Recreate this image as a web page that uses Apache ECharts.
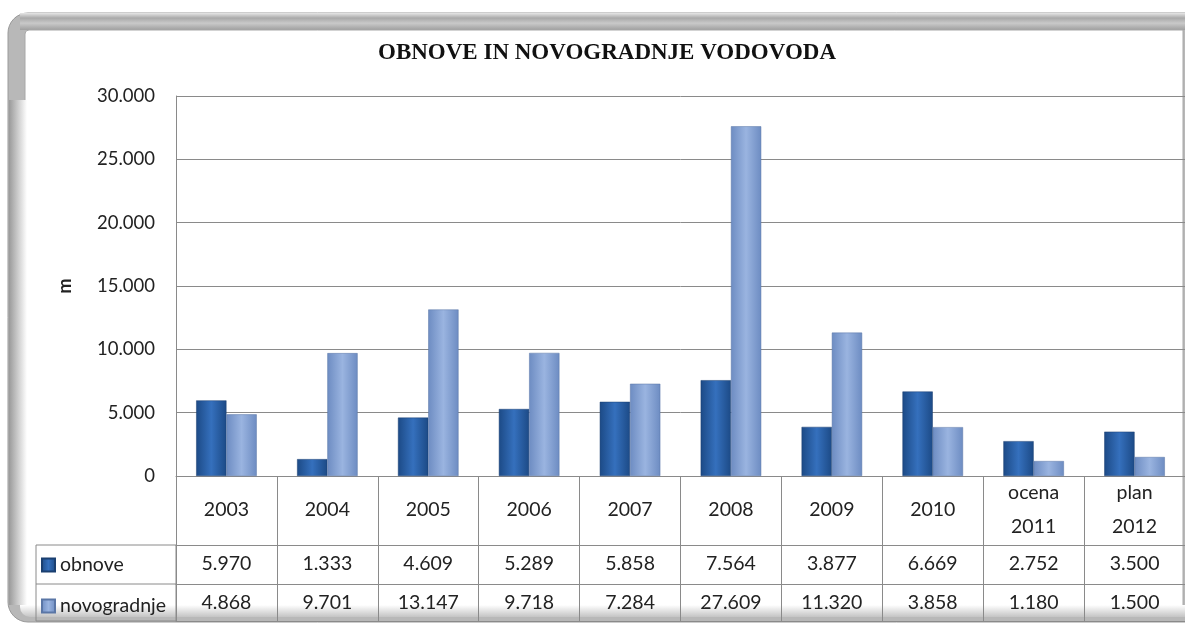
<!DOCTYPE html>
<html>
<head>
<meta charset="utf-8">
<script src="https://cdn.jsdelivr.net/npm/echarts@6/dist/echarts.min.js"></script>
<style>
  html, body { margin: 0; padding: 0; background: #fff; }
  #chart { width: 1185px; height: 623px; }
</style>
</head>
<body>
<div id="chart"></div>
<script>
// podatki
const categories = ['2003', '2004', '2005', '2006', '2007', '2008', '2009', '2010', 'ocena\n2011', 'plan\n2012'];
const obnove = [5970, 1333, 4609, 5289, 5858, 7564, 3877, 6669, 2752, 3500];
const novogradnje = [4868, 9701, 13147, 9718, 7284, 27609, 11320, 3858, 1180, 1500];
const yTicks = [0, 5000, 10000, 15000, 20000, 25000, 30000];

// 5970 -> "5.970"
const fmt = v => String(v).replace(/\B(?=(\d{3})+(?!\d))/g, '.');

const lineColor = '#8a8a8a';
const font = 'Lato';
const tableFont = 19.5;

const chart = echarts.init(document.getElementById('chart'));

const tableAxis = (data, offset, showLabel) => ({
  type: 'category',
  gridIndex: 0,
  position: 'bottom',
  offset: offset,
  data: data,
  axisLine: { show: true, lineStyle: { color: lineColor, width: 1 } },
  axisTick: { show: false },
  axisLabel: {
    show: showLabel, interval: 0, margin: 19, verticalAlign: 'middle',
    color: '#222', fontFamily: font, fontSize: tableFont
  },
  splitLine: { show: false }
});

chart.setOption({
  backgroundColor: '#fff',
  animation: false,
  title: {
    text: 'OBNOVE IN NOVOGRADNJE VODOVODA',
    left: 373,
    top: 37,
    textStyle: { fontFamily: 'Liberation Serif', fontWeight: 'bold', fontSize: 23, color: '#111' }
  },
  legend: {
    orient: 'vertical',
    left: 41,
    top: 555,
    padding: 0,
    itemWidth: 13,
    itemHeight: 13,
    itemGap: 21,
    icon: 'rect',
    textStyle: { fontFamily: font, fontSize: tableFont, color: '#222', lineHeight: 18 },
    data: ['obnove', 'novogradnje']
  },
  grid: { left: 176, right: -5, top: 96, bottom: 147, containLabel: false },
  xAxis: [
    {
      type: 'category',
      data: categories,
      axisLine: { show: true, lineStyle: { color: lineColor, width: 1 } },
      axisTick: { show: true, interval: 0, length: 146, alignWithLabel: false, lineStyle: { color: lineColor } },
      axisLabel: {
        interval: 0, margin: 34, verticalAlign: 'middle', lineHeight: 34,
        color: '#222', fontFamily: font, fontSize: tableFont
      }
    },
    tableAxis(obnove.map(fmt), 69, true),
    tableAxis(novogradnje.map(fmt), 108, true),
    tableAxis(categories.map(() => ''), 145, false)
  ],
  yAxis: {
    type: 'value',
    min: yTicks[0],
    max: yTicks[yTicks.length - 1],
    interval: yTicks[1] - yTicks[0],
    name: 'm',
    nameLocation: 'middle',
    nameRotate: 90,
    nameGap: 102,
    nameTextStyle: { fontFamily: font, fontSize: 18, fontWeight: 'bold', color: '#222' },
    axisLine: { show: true, lineStyle: { color: lineColor } },
    axisTick: { show: false },
    axisLabel: { margin: 21, color: '#222', fontFamily: font, fontSize: 18.5, formatter: fmt },
    splitLine: { lineStyle: { color: lineColor, width: 1 } }
  },
  series: [
    {
      name: 'obnove',
      type: 'bar',
      data: obnove,
      barGap: '0%',
      barCategoryGap: '40%',
      itemStyle: {
        color: new echarts.graphic.LinearGradient(0, 0, 1, 0, [
          { offset: 0, color: '#1c4a86' },
          { offset: 0.5, color: '#3570bd' },
          { offset: 1, color: '#1c4a86' }
        ]),
        borderColor: '#1a3f70',
        borderWidth: 0.5
      }
    },
    {
      name: 'novogradnje',
      type: 'bar',
      data: novogradnje,
      itemStyle: {
        color: new echarts.graphic.LinearGradient(0, 0, 1, 0, [
          { offset: 0, color: '#6d8cc2' },
          { offset: 0.5, color: '#9ab4e0' },
          { offset: 1, color: '#6d8cc2' }
        ]),
        borderColor: '#5a76a6',
        borderWidth: 0.5
      }
    }
  ],
  graphic: [
    // okvir
    {
      type: 'rect', z: -20,
      shape: { x: 8, y: 13, width: 1195, height: 609, r: [20, 0, 0, 20] },
      style: { fill: '#b8b8b8', stroke: '#9a9a9a', lineWidth: 1 }
    },
    {
      type: 'rect', z: -19,
      shape: { x: 20, y: 13, width: 1183, height: 17 },
      style: {
        fill: new echarts.graphic.LinearGradient(0, 0, 0, 1, [
          { offset: 0, color: '#e6e6e6' },
          { offset: 0.3, color: '#a9a9a9' },
          { offset: 0.6, color: '#c9c9c9' },
          { offset: 1, color: '#9f9f9f' }
        ])
      }
    },
    {
      type: 'rect', z: -18,
      shape: { x: 25, y: 30, width: 1158, height: 586, r: [4, 0, 0, 10] },
      style: { fill: '#ffffff', stroke: '#a8a8a8', lineWidth: 1 }
    },
    {
      type: 'rect', z: -17,
      shape: { x: 9, y: 100, width: 18, height: 505 },
      style: {
        fill: new echarts.graphic.LinearGradient(0, 0, 1, 0, [
          { offset: 0, color: '#9a9a9a' },
          { offset: 1, color: '#ffffff' }
        ])
      }
    },
    {
      type: 'rect', z: -17,
      shape: { x: 20, y: 605, width: 1170, height: 12, r: [0, 0, 0, 10] },
      style: {
        fill: new echarts.graphic.LinearGradient(0, 0, 0, 1, [
          { offset: 0, color: '#ffffff' },
          { offset: 1, color: '#c4c4c4' }
        ])
      }
    },
    // leva stran tabele
    {
      type: 'rect', z: 5,
      shape: { x: 36, y: 545, width: 140, height: 76 },
      style: { fill: 'none', stroke: lineColor, lineWidth: 1 }
    },
    {
      type: 'line', z: 5,
      shape: { x1: 36, y1: 584, x2: 176, y2: 584 },
      style: { stroke: lineColor, lineWidth: 1 }
    }
  ]
});
</script>
</body>
</html>
